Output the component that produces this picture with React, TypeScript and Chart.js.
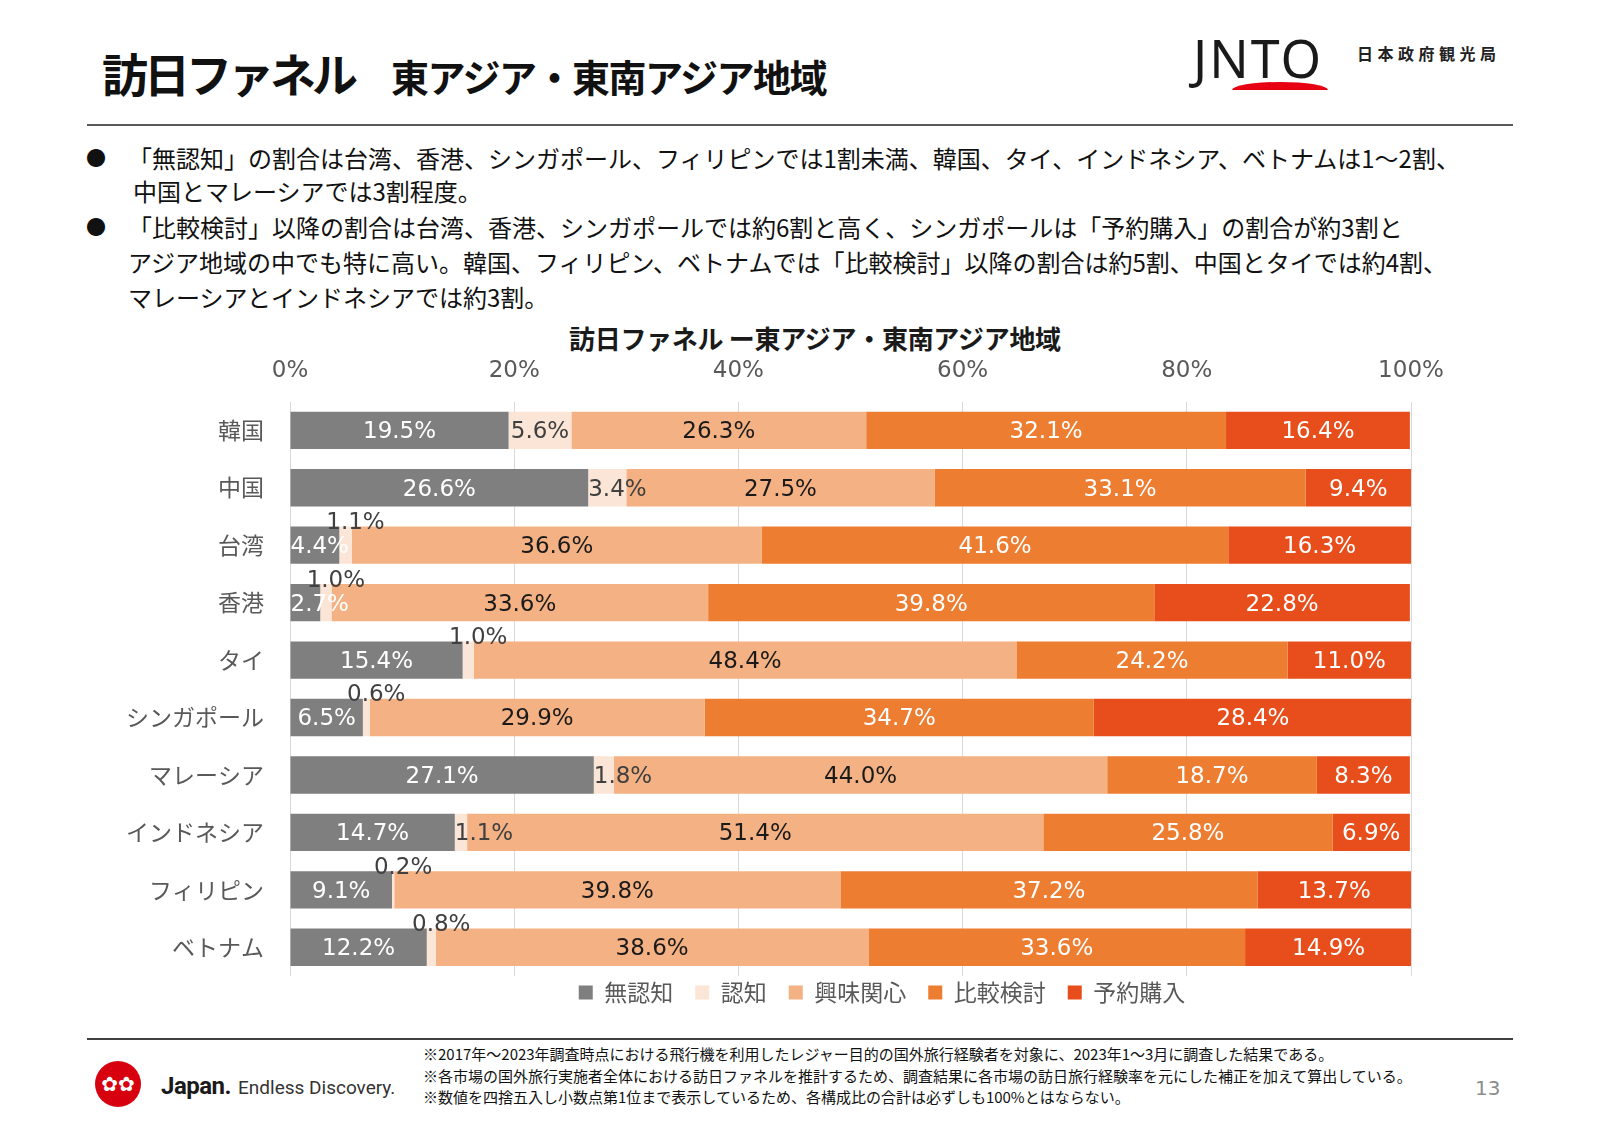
import React, { useEffect, useRef } from "react";
import { Chart, registerables } from "chart.js";

Chart.register(...registerables);

// ---------- data ----------
const categories = ["韓国", "中国", "台湾", "香港", "タイ", "シンガポール", "マレーシア", "インドネシア", "フィリピン", "ベトナム"];
const seriesNames = ["無認知", "認知", "興味関心", "比較検討", "予約購入"];
const unaware = [19.5, 26.6, 4.4, 2.7, 15.4, 6.5, 27.1, 14.7, 9.1, 12.2];
const aware = [5.6, 3.4, 1.1, 1.0, 1.0, 0.6, 1.8, 1.1, 0.2, 0.8];
const interest = [26.3, 27.5, 36.6, 33.6, 48.4, 29.9, 44.0, 51.4, 39.8, 38.6];
const compare = [32.1, 33.1, 41.6, 39.8, 24.2, 34.7, 18.7, 25.8, 37.2, 33.6];
const booking = [16.4, 9.4, 16.3, 22.8, 11.0, 28.4, 8.3, 6.9, 13.7, 14.9];
const xTickValues = [0, 20, 40, 60, 80, 100];
// categories whose 認知 label sits above the bar
const raisedAwareLabels = ["台湾", "香港", "タイ", "シンガポール", "フィリピン", "ベトナム"];

const seriesColors = ["#7F7F7F", "#FBE5D6", "#F4B183", "#ED7D31", "#E84E1B"];
const labelColors = ["#FFFFFF", "#404040", "#1A1A1A", "#FFFFFF", "#FFFFFF"];

const LEGEND_CENTER_X = 882;
const LEGEND_SHIFT_Y = -17;

const segLabelPlugin = {
  id: "segLabels",
  afterDatasetsDraw(chart: any) {
    const ctx = chart.ctx;
    ctx.save();
    ctx.font = '23px "DejaVu Sans"';
    ctx.textBaseline = "middle";
    chart.data.datasets.forEach((ds: any, di: number) => {
      const meta = chart.getDatasetMeta(di);
      if (meta.hidden) return;
      meta.data.forEach((bar: any, i: number) => {
        const v = ds.data[i];
        const text = v.toFixed(1) + "%";
        const { x, y, base } = bar.getProps(["x", "y", "base"], true);
        const left = Math.min(x, base);
        const right = Math.max(x, base);
        const ty = y + 2;
        const w = ctx.measureText(text).width;
        if (di === 1 && raisedAwareLabels.includes(categories[i])) {
          ctx.fillStyle = "#404040";
          ctx.textAlign = "center";
          ctx.fillText(text, (left + right) / 2 + 10, ty - 24);
        } else if (w > right - left) {
          ctx.fillStyle = labelColors[di];
          ctx.textAlign = "left";
          ctx.fillText(text, left, ty);
        } else {
          ctx.fillStyle = labelColors[di];
          ctx.textAlign = "center";
          ctx.fillText(text, (left + right) / 2, ty);
        }
      });
    });
    ctx.restore();
  },
};

const legendShiftPlugin = {
  id: "legendShift",
  afterLayout(chart: any) {
    const l = chart.legend;
    if (!l) return;
    const dx = LEGEND_CENTER_X - (l.left + l.right) / 2;
    l.left += dx;
    l.right += dx;
    l.top += LEGEND_SHIFT_Y;
    l.bottom += LEGEND_SHIFT_Y;
  },
};

function FunnelChart() {
  const ref = useRef<HTMLCanvasElement | null>(null);
  useEffect(() => {
    if (!ref.current) return;
    const seriesData = [unaware, aware, interest, compare, booking];
    const chart = new Chart(ref.current, {
      type: "bar",
      data: {
        labels: categories,
        datasets: seriesNames.map((name, k) => ({
          label: name,
          data: seriesData[k],
          backgroundColor: seriesColors[k],
          borderWidth: 0,
          barPercentage: 0.65,
          categoryPercentage: 1,
        })),
      },
      options: {
        indexAxis: "y",
        animation: false,
        responsive: false,
        maintainAspectRatio: false,
        layout: { padding: { top: 10, right: 189, bottom: 0, left: 0 } },
        scales: {
          x: {
            stacked: true,
            position: "top",
            min: 0,
            max: 100,
            afterBuildTicks: (s: any) => {
              s.ticks = xTickValues.map((v) => ({ value: v }));
            },
            ticks: {
              callback: (v: any) => v + "%",
              font: { family: '"DejaVu Sans"', size: 23 },
              color: "#595959",
              padding: 17,
              maxRotation: 0,
            },
            grid: { color: "#D9D9D9", lineWidth: 1, drawTicks: false },
            border: { display: false },
          },
          y: {
            stacked: true,
            afterFit: (s: any) => {
              s.width = 290;
            },
            ticks: {
              font: { family: '"Noto Sans CJK JP"', size: 23 },
              color: "#595959",
              padding: 18,
            },
            grid: { display: false },
            border: { display: false },
          },
        },
        plugins: {
          title: { display: false },
          tooltip: { enabled: false },
          legend: {
            position: "bottom",
            labels: {
              boxWidth: 14,
              boxHeight: 14,
              padding: 22,
              color: "#595959",
              font: { family: '"Noto Sans CJK JP"', size: 23 },
            },
          },
        },
      },
      plugins: [segLabelPlugin, legendShiftPlugin],
    } as any);
    return () => chart.destroy();
  }, []);
  return <canvas ref={ref} width={1600} height={701} style={{ position: "absolute", left: 0, top: 330, width: 1600, height: 701 }} />;
}

const jp = '"Noto Sans CJK JP", sans-serif';

const bulletLines = [
  { bullet: true, left: 128, top: 143, text: "「無認知」の割合は台湾、香港、シンガポール、フィリピンでは1割未満、韓国、タイ、インドネシア、ベトナムは1～2割、" },
  { bullet: false, left: 133, top: 176, text: "中国とマレーシアでは3割程度。" },
  { bullet: true, left: 128, top: 212, text: "「比較検討」以降の割合は台湾、香港、シンガポールでは約6割と高く、シンガポールは「予約購入」の割合が約3割と" },
  { bullet: false, left: 128, top: 247, text: "アジア地域の中でも特に高い。韓国、フィリピン、ベトナムでは「比較検討」以降の割合は約5割、中国とタイでは約4割、" },
  { bullet: false, left: 128, top: 282, text: "マレーシアとインドネシアでは約3割。" },
];

const notes = [
  "※2017年～2023年調査時点における飛行機を利用したレジャー目的の国外旅行経験者を対象に、2023年1～3月に調査した結果である。",
  "※各市場の国外旅行実施者全体における訪日ファネルを推計するため、調査結果に各市場の訪日旅行経験率を元にした補正を加えて算出している。",
  "※数値を四捨五入し小数点第1位まで表示しているため、各構成比の合計は必ずしも100%とはならない。",
];

export default function App() {
  const abs = (s: React.CSSProperties): React.CSSProperties => ({ position: "absolute", whiteSpace: "nowrap", ...s });
  return (
    <div style={{ position: "absolute", left: 0, top: 0, width: 1600, height: 1130, background: "#FFFFFF", overflow: "hidden", fontFamily: jp, color: "#111" }}>
      {/* header */}
      <div style={abs({ left: 102, top: 46, lineHeight: "52px", display: "flex", alignItems: "baseline" })}>
        <span style={{ fontSize: 46, fontWeight: 700, letterSpacing: -4 }}>訪日ファネル</span>
        <span style={{ fontSize: 38, fontWeight: 700, letterSpacing: -1.5, marginLeft: 37 }}>東アジア・東南アジア地域</span>
      </div>
      <div style={abs({ left: 1193, top: 28, fontFamily: '"Noto Sans", sans-serif', fontSize: 52, lineHeight: "60px", color: "#1a1a1a", letterSpacing: 2 })}>JNTO</div>
      <div style={abs({ left: 1232, top: 82, width: 96, height: 8, background: "#E60012", borderRadius: "50% 50% 0 0 / 100% 100% 0 0" })} />
      <div style={abs({ left: 1357, top: 41, fontSize: 16, fontWeight: 700, letterSpacing: 4.5, lineHeight: "24px", color: "#222" })}>日本政府観光局</div>
      <div style={abs({ left: 87, top: 124, width: 1426, height: 2, background: "#595959" })} />

      {/* bullets */}
      {bulletLines.map((ln, k) => (
        <React.Fragment key={k}>
          {ln.bullet && <div style={abs({ left: 86, top: ln.top, fontSize: 20, lineHeight: "30px" })}>●</div>}
          <div style={abs({ left: ln.left, top: ln.top, fontSize: 24, lineHeight: "30px" })}>{ln.text}</div>
        </React.Fragment>
      ))}

      {/* chart title */}
      <div style={abs({ left: 569, top: 323, fontSize: 26, fontWeight: 700, lineHeight: "30px", color: "#1a1a1a", letterSpacing: -0.3 })}>訪日ファネル ー東アジア・東南アジア地域</div>

      <FunnelChart />

      {/* footer */}
      <div style={abs({ left: 87, top: 1038, width: 1426, height: 2, background: "#404040" })} />
      <div style={abs({ left: 95, top: 1061, width: 46, height: 46, borderRadius: "50%", background: "#D7000F", color: "#fff", fontSize: 20, lineHeight: "46px", textAlign: "center", fontFamily: '"DejaVu Sans"' })}>✿✿</div>
      <div style={abs({ left: 161, top: 1072, fontFamily: "Roboto, sans-serif", lineHeight: "28px", display: "flex", alignItems: "baseline" })}>
        <span style={{ fontSize: 24, fontWeight: 700, color: "#1a1a1a", letterSpacing: -0.5 }}>Japan.</span>
        <span style={{ fontSize: 19, color: "#333", marginLeft: 7 }}>Endless Discovery.</span>
      </div>
      {notes.map((t, k) => (
        <div key={k} style={abs({ left: 423, top: 1043 + k * 21.5, fontSize: 15, lineHeight: "21px", color: "#111" })}>{t}</div>
      ))}
      <div style={abs({ left: 1475, top: 1076, fontSize: 20, lineHeight: "24px", color: "#8c8c8c", fontFamily: '"DejaVu Sans"' })}>13</div>
    </div>
  );
}
